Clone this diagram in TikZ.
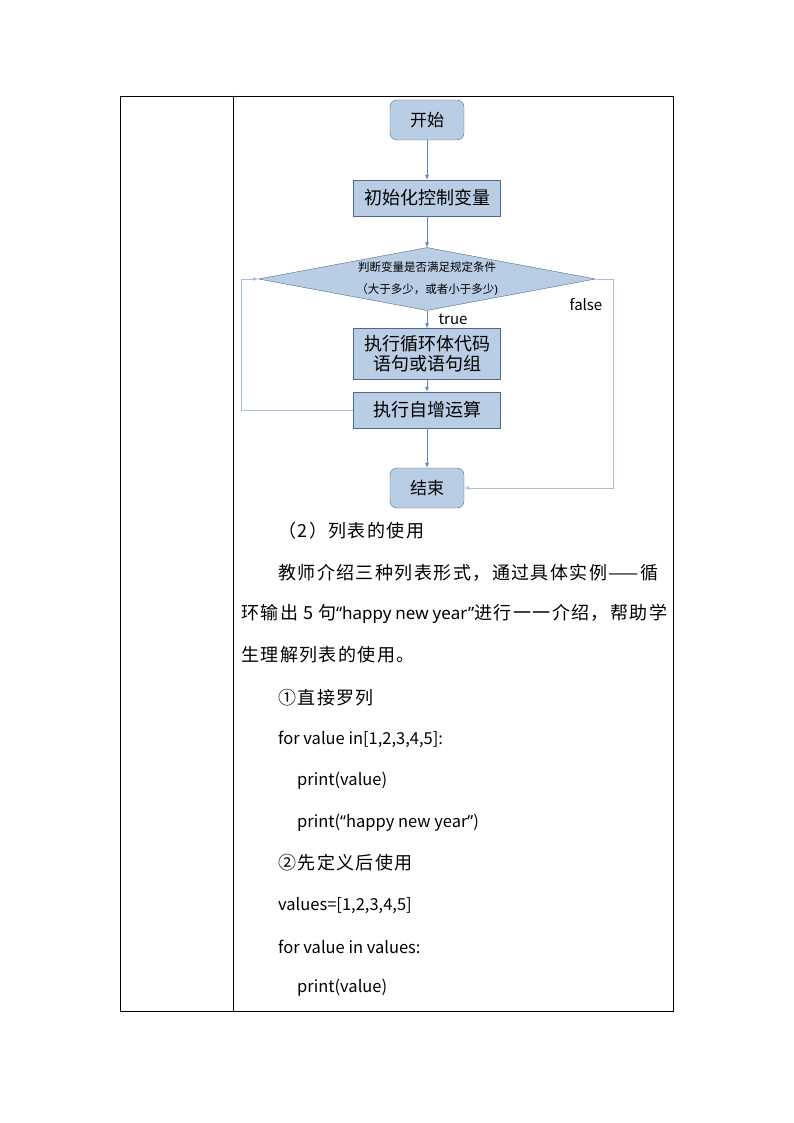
\documentclass[tikz,border=0pt]{standalone}
\usepackage{fontspec}
\setmainfont{Noto Sans CJK SC}
\newfontfamily\cjk{Noto Sans CJK SC}
\newfontfamily\bodyfont[LetterSpace=8]{Noto Sans CJK SC}
\newfontfamily\lat{Noto Sans}
\usetikzlibrary{shapes.geometric,arrows.meta}
\definecolor{boxfill}{HTML}{B9CDE5}
\definecolor{boxdraw}{HTML}{4A6A94}
\definecolor{conn}{HTML}{5B86BB}
\definecolor{loopc}{HTML}{A9C0DC}
\tikzset{
  x=1pt,y=-1pt,
  rbox/.style={draw=boxdraw,fill=boxfill,rounded corners=7pt,minimum width=74pt,minimum height=40pt,inner sep=0pt,font=\cjk\fontsize{17}{20}\selectfont},
  pbox/.style={draw=boxdraw,fill=boxfill,minimum width=147pt,inner sep=0pt,font=\cjk\fontsize{18}{22}\selectfont,align=center},
  dia/.style={draw=boxdraw,fill=boxfill,diamond,aspect=5.3,minimum width=337pt,minimum height=63pt,inner sep=0pt,align=center,font=\cjk\fontsize{11.5}{22}\selectfont},
  arr/.style={draw=conn,line width=0.7pt,-{Latex[length=5pt,width=4pt]}},
  larr/.style={draw=loopc,line width=1pt,-{Latex[length=5pt,width=4pt,fill=conn]}},
  tline/.style={draw=black,line width=0.7pt},
  body/.style={anchor=west,inner sep=0pt,font=\bodyfont\fontsize{18}{22}\selectfont},
  code/.style={anchor=west,inner sep=0pt,font=\cjk\fontsize{16.5}{20}\selectfont},
  lbl/.style={inner sep=0pt,font=\cjk\fontsize{15}{18}\selectfont}
}
\begin{document}
\begin{tikzpicture}
\useasboundingbox (0,0) rectangle (794,1123);
% table
\draw[tline] (120,96) rectangle (673,1011);
\draw[tline] (233,96) -- (233,1011);
% flowchart
\node[rbox] (start) at (427,120) {开始};
\node[pbox,minimum height=36pt] (init) at (427,198) {初始化控制变量};
\node[dia] (cond) at (427,279) {判断变量是否满足规定条件\\（大于多少，或者小于多少{\lat )}};
\node[pbox,minimum height=51pt] (body) at (427,354) {执行循环体代码\\[-2pt]语句或语句组};
\node[pbox,minimum height=36pt] (inc) at (427,410) {执行自增运算};
\node[rbox] (end) at (427,488) {结束};
\node[lbl] (true) at (453,319) {true};
\node[lbl] (false) at (586,305) {false};
\coordinate (lb) at (241,410);
\coordinate (lt) at (241,279);
\coordinate (rt) at (613,279);
\coordinate (rb) at (613,488);
\draw[arr] (start) -- (init);
\draw[arr] (init) -- (cond);
\draw[arr] (cond) -- (body);
\draw[arr] (body) -- (inc);
\draw[arr] (inc) -- (end);
\draw[larr] (inc.west) -- (lb) -- (lt) -- (cond.west);
\draw[larr] (cond.east) -- (rt) -- (rb) -- (end.east);
% text
\node[body] (t1) at (278,531) {（2）列表的使用};
\node[body] (t2) at (278,573) {教师介绍三种列表形式，通过具体实例——循};
\node[body] (t3) at (241,614) {\makebox[426pt][s]{环输出 5 句{\lat\fontsize{17}{20}\selectfont “happy new year”}进行一一介绍，帮助学}};
\node[body] (t4) at (241,655) {生理解列表的使用。};
\node[body] (t5) at (278,698) {①直接罗列};
\node[code] (c1) at (278,739) {for value in[1,2,3,4,5]:};
\node[code] (c2) at (297,781) {print(value)};
\node[code] (c3) at (297,823) {print({\lat “}happy new year{\lat ”})};
\node[body] (t6) at (278,863) {②先定义后使用};
\node[code] (c4) at (278,905) {values=[1,2,3,4,5]};
\node[code] (c5) at (278,947) {for value in values:};
\node[code] (c6) at (297,988) {print(value)};
\end{tikzpicture}
\end{document}
